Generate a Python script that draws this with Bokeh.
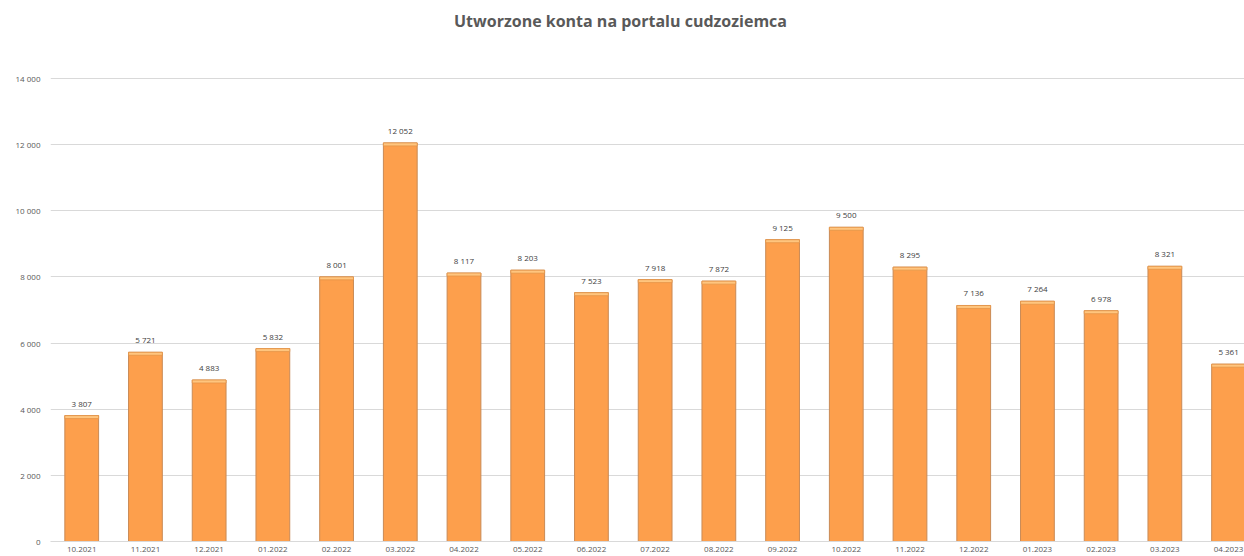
from bokeh.plotting import figure
from bokeh.models import Range1d, ColumnDataSource, FixedTicker, Label
from bokeh.core.properties import value
from bokeh.embed import file_html
from bokeh.resources import INLINE

months = ["10.2021", "11.2021", "12.2021", "01.2022", "02.2022", "03.2022", "04.2022",
          "05.2022", "06.2022", "07.2022", "08.2022", "09.2022", "10.2022", "11.2022",
          "12.2022", "01.2023", "02.2023", "03.2023", "04.2023"]
accounts = [3807, 5721, 4883, 5832, 8001, 12052, 8117, 8203, 7523, 7918, 7872, 9125,
            9500, 8295, 7136, 7264, 6978, 8321, 5361]
y_ticks = [0, 2000, 4000, 6000, 8000, 10000, 12000, 14000]
title_text = "Utworzone konta na portalu cudzoziemca"

def fmt(v):
    return f"{v:,}".replace(",", " ")

idx = list(range(len(months)))
src = ColumnDataSource(dict(x=idx, top=accounts, label=[fmt(v) for v in accounts],
                            cap_bottom=[v - 90 for v in accounts]))

# frame spans the full height above the x axis; the upper band holds the title
p = figure(width=1244, height=556, output_backend="svg", toolbar_location=None,
           x_range=Range1d(-0.49, 18.25), y_range=Range1d(0, 16358),
           min_border_left=50, min_border_right=0, min_border_top=0, min_border_bottom=15)

title = Label(x=570, y=521, x_units="screen", y_units="screen", text=title_text,
              text_align="center", text_baseline="middle", text_font="Open Sans",
              text_font_size="16px", text_font_style="bold", text_color="#595959")
p.add_layout(title)

p.outline_line_color = None
p.background_fill_color = "white"

# bars
p.vbar(x="x", top="top", bottom=0, width=0.53, source=src,
       fill_color="#FD9F4C", line_color="#C98A55", line_width=1)
p.vbar(x="x", top="top", bottom="cap_bottom", width=0.53, source=src,
       fill_color="#FFC57E", line_color="#E59448", line_width=0.8)

p.text(x="x", y="top", text="label", source=src, text_align="center",
       text_baseline="bottom", y_offset=-7, text_font=value("Open Sans"),
       text_font_size="8px", text_color="#404040")

# axes
p.xaxis.ticker = FixedTicker(ticks=idx)
p.xaxis.major_label_overrides = {i: m for i, m in enumerate(months)}
p.xaxis.axis_line_color = "#D9D9D9"
p.xaxis.major_tick_line_color = None
p.xaxis.minor_tick_line_color = None
p.xaxis.major_tick_out = 0
p.xaxis.major_tick_in = 0
p.xaxis.major_label_text_font = "Open Sans"
p.xaxis.major_label_text_font_size = "8px"
p.xaxis.major_label_text_color = "#595959"
p.xaxis.major_label_standoff = 5

p.yaxis.ticker = FixedTicker(ticks=y_ticks)
p.yaxis.major_label_overrides = {t: fmt(t) for t in y_ticks}
p.yaxis.axis_line_color = None
p.yaxis.major_tick_line_color = None
p.yaxis.minor_tick_line_color = None
p.yaxis.major_tick_out = 0
p.yaxis.major_tick_in = 0
p.yaxis.major_label_text_font = "Open Sans"
p.yaxis.major_label_text_font_size = "8px"
p.yaxis.major_label_text_color = "#595959"
p.yaxis.major_label_standoff = 10

p.xgrid.grid_line_color = None
p.ygrid.grid_line_color = "#D9D9D9"
p.ygrid.grid_line_width = 1

open("out.html", "w").write(file_html(p, INLINE))
